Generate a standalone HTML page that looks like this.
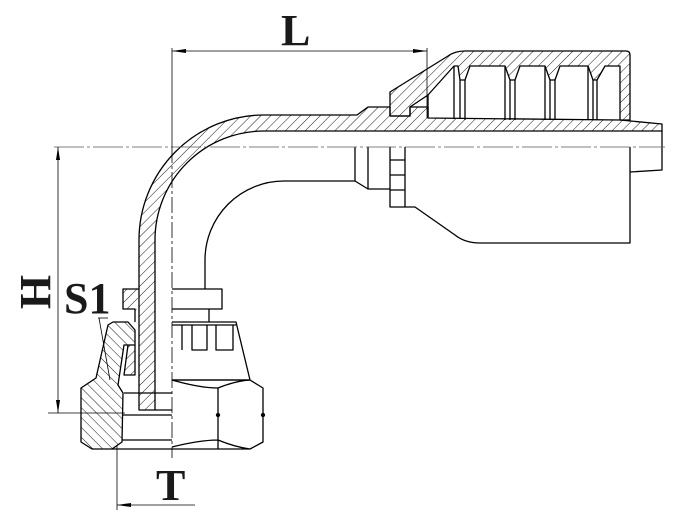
<!DOCTYPE html>
<html><head><meta charset="utf-8"><style>
html,body{margin:0;padding:0;background:#fff}
svg{display:block}
text{font-family:"Liberation Serif",serif;font-weight:bold;fill:#1a1a1a}
</style></head><body>
<svg width="690" height="515" viewBox="0 0 690 515" xmlns="http://www.w3.org/2000/svg">
<defs>
<pattern id="h" patternUnits="userSpaceOnUse" width="7" height="7" patternTransform="rotate(45)">
<line x1="0" y1="0" x2="0" y2="7" stroke="#000" stroke-width="0.9"/>
</pattern>
<pattern id="h2" patternUnits="userSpaceOnUse" width="7" height="7" patternTransform="rotate(-45)">
<line x1="0" y1="0" x2="0" y2="7" stroke="#000" stroke-width="0.9"/>
</pattern>
</defs>
<g fill="none" stroke="#000" stroke-width="1.3" stroke-linejoin="round">
<path d="M139,290 L139,240 A125,125 0 0 1 264,115 L357,115 L368,107 L390,107 L390,116 L410,116 L410,107 L428,107 L428,118 L620,120 L662,124 L662,131 L264,131 A109,109 0 0 0 155,240 L155,410 L139,410 Z" fill="url(#h)"/>
<path d="M390,92 L448,56 Q455,51 465,51 L626,51 Q630,51 630,55 L630,120 L620,120 L620,66 L605,66 L597,80 L593,80 L588,66 L560,66 L555,80 L550,80 L545,66 L520,66 L515,80 L510,80 L505,66 L470,66 L465,80 L460,80 L458,66 L454,66 L428,95 L410,107 L410,116 L390,116 Z" fill="url(#h)"/>
<path d="M454,66 L454,119 M460,80 L460,119 M465,80 L465,120 M505,66 L505,120 M510,80 L510,120 M515,80 L515,120 M545,66 L545,120 M550,80 L550,120 M555,80 L555,120 M588,66 L588,120 M593,80 L593,120 M597,80 L597,120 M428,95 L428,118"/>
<path d="M205,289 L205,260 A79,79 0 0 1 284,181 L355,181"/>
<path d="M355,147 L355,181 L368,189 L390,189 M368,147 L368,189 M390,147 L390,207 L405,207 M390,160 L405,160 M390,175 L405,175 M390,190 L405,190 M405,147 L405,207"/>
<path d="M405,207 L415,207 L455,235 Q465,243 480,243 L630,243 L630,147 M630,172 L662,170 L662,131"/>
<path d="M139,289 L123,289 L123,309 L135,309 L135,322" fill="url(#h)"/>
<path d="M172,289 L222,289 L222,309 L172,309 M209,309 L209,322"/>
<path d="M172,322 L236,322 L250,380 L172,380 M182,325 L182,350 M192,325 L192,350 L207,350 L207,325 M216,325 L216,350 L233,350 L233,325 M172,325 L236,325"/>
<path d="M172,380 L250,380 L263,388 L263,442 L250,449 L172,449 M172,380 Q200,388 218,388 L218,449 M218,388 Q235,381 250,380 M172,447 Q200,440 218,440 Q235,447 250,449"/>
<circle cx="218" cy="415" r="1.5" fill="#000"/><circle cx="263" cy="415" r="1.5" fill="#000"/>
<path d="M81,388 L96,378 L108,325 L113,322 L128,322 L135,330 L135,345 L124,345 L118,385 L123,393 L122,442 L112,449 L92,449 L81,442 Z" fill="url(#h2)"/>
<path d="M124,393 L172,393 M122,415 L172,415 M122,440 L172,440 M112,449 L172,449 M155,410 L172,410"/>
<path d="M128,345 L124,375 L135,375 L135,345" fill="url(#h)"/>
</g>
<g stroke="#000" stroke-width="0.8" fill="none">
<line x1="54" y1="147" x2="665" y2="147" stroke="#555" stroke-dasharray="30,3,3,3"/>
<line x1="172" y1="48" x2="172" y2="147"/>
<line x1="172" y1="147" x2="172" y2="458" stroke-dasharray="16,3,3,3"/>
<line x1="427" y1="48" x2="427" y2="118"/>
<line x1="172" y1="51" x2="427" y2="51"/>
<line x1="58" y1="147" x2="58" y2="413"/>
<line x1="48" y1="413" x2="125" y2="413"/>
<line x1="117" y1="445" x2="117" y2="510"/>
<line x1="117" y1="505" x2="195" y2="505"/>
<line x1="98" y1="318" x2="108" y2="318"/>
<line x1="99" y1="318" x2="110" y2="380"/>
</g>
<g fill="#000">
<path d="M172,51 L186,49 L186,53 Z"/><path d="M427,51 L413,49 L413,53 Z"/>
<path d="M58,147 L56,160 L60,160 Z"/><path d="M58,413 L56,400 L60,400 Z"/>
<path d="M117,505 L131,503 L131,507 Z"/>
</g>
<text x="281" y="45" font-size="44">L</text>
<text x="64" y="313" font-size="44">S1</text>
<text x="156" y="500" font-size="44">T</text>
<text transform="translate(50,292) rotate(-90)" font-size="44" text-anchor="middle">H</text>
</svg>
</body></html>
